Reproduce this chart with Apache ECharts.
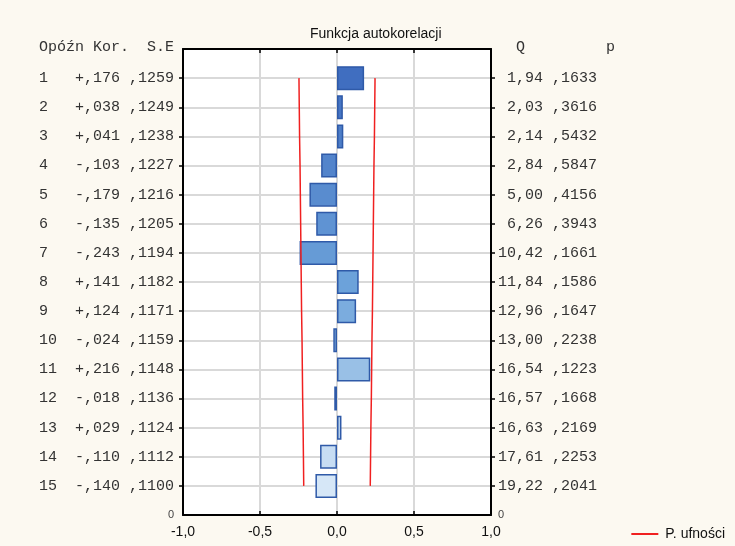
<!DOCTYPE html>
<html>
<head>
<meta charset="utf-8">
<script src="https://cdn.jsdelivr.net/npm/echarts@6/dist/echarts.min.js"></script>
<style>
html,body{margin:0;padding:0;background:#fcf9f1;}
#chart{width:735px;height:546px;}
</style>
</head>
<body>
<div id="chart"></div>
<script>
// ---- data ----
const lags = [1, 2, 3, 4, 5, 6, 7, 8, 9, 10, 11, 12, 13, 14, 15];
const corr = [0.176, 0.038, 0.041, -0.103, -0.179, -0.135, -0.243, 0.141, 0.124, -0.024, 0.216, -0.018, 0.029, -0.110, -0.140];
const stdErr = [0.1259, 0.1249, 0.1238, 0.1227, 0.1216, 0.1205, 0.1194, 0.1182, 0.1171, 0.1159, 0.1148, 0.1136, 0.1124, 0.1112, 0.1100];
const qStat = [1.94, 2.03, 2.14, 2.84, 5.00, 6.26, 10.42, 11.84, 12.96, 13.00, 16.54, 16.57, 16.63, 17.61, 19.22];
const pVal = [0.1633, 0.3616, 0.5432, 0.5847, 0.4156, 0.3943, 0.1661, 0.1586, 0.1647, 0.2238, 0.1223, 0.1668, 0.2169, 0.2253, 0.2041];
const confUpper = [0.247, 0.245, 0.243, 0.240, 0.238, 0.236, 0.234, 0.232, 0.230, 0.227, 0.225, 0.223, 0.220, 0.218, 0.216];
const confLower = [-0.247, -0.245, -0.243, -0.240, -0.238, -0.236, -0.234, -0.232, -0.230, -0.227, -0.225, -0.223, -0.220, -0.218, -0.216];
const xTicks = [-1, -0.5, 0, 0.5, 1];
const title = 'Funkcja autokorelacji';
const leftHeader = 'Opóźn Kor.  S.E';
const rightHeader = '  Q         p';
const legendName = 'P. ufności';

// ---- build ----
// category index 0 = bottom ("0"), 1..15 = lags 15..1, 16 = header row
const yCats = ['0'].concat(lags.slice().reverse().map(String)).concat(['hdr']);
const nCat = yCats.length;

function fmtCorr(v){ return (v < 0 ? '-' : '+') + ',' + Math.abs(v).toFixed(3).slice(2); }
function fmtFrac4(v){ return ',' + v.toFixed(4).slice(2); }
function fmtQ(v){ return v.toFixed(2).replace('.', ',').padStart(5, ' '); }

function leftLabel(val, idx){
  if (idx === 0) return '{s|0}';
  if (idx === nCat - 1) return '{h|' + leftHeader + '}';
  const i = +val - 1;
  return '{m|' + String(lags[i]).padEnd(4, ' ') + fmtCorr(corr[i]) + ' ' + fmtFrac4(stdErr[i]) + '}';
}
function rightLabel(val, idx){
  if (idx === 0) return '{s|0}';
  if (idx === nCat - 1) return '{h|' + rightHeader + '}';
  const i = +val - 1;
  return '{m|' + fmtQ(qStat[i]) + ' ' + fmtFrac4(pVal[i]) + '}';
}

// colour ramp (style only): dark blue -> mid blue -> pale blue
const stops = [[64, 110, 192], [108, 162, 218], [214, 231, 247]];
function barColor(i){
  const t = i / (lags.length - 1) * 2;
  const k = Math.min(1, Math.floor(t));
  const f = t - k;
  const a = stops[k], b = stops[k + 1];
  const c = a.map((x, j) => Math.round(x + (b[j] - x) * f));
  return 'rgb(' + c.join(',') + ')';
}

const barData = yCats.map((c, idx) => {
  if (idx === 0 || idx === nCat - 1) return '-';
  const i = +c - 1;
  return { value: corr[i], itemStyle: { color: barColor(i) } };
});

const monoFont = '"Liberation Mono","Courier New",monospace';
const sansFont = '"Liberation Sans",Arial,sans-serif';
const richStyles = {
  m: { fontFamily: monoFont, fontSize: 15, color: '#333' },
  h: { fontFamily: monoFont, fontSize: 15, color: '#333', padding: [0, 0, 3, 0] },
  s: { fontFamily: sansFont, fontSize: 11, color: '#444' }
};
const inner = (idx) => idx > 0 && idx < nCat - 1;

const chart = echarts.init(document.getElementById('chart'));
chart.setOption({
  backgroundColor: '#fcf9f1',
  animation: false,
  title: {
    text: title, left: 305, top: 22,
    textStyle: { fontFamily: sansFont, fontSize: 14, fontWeight: 'normal', color: '#111' }
  },
  legend: {
    data: [legendName], right: 5, bottom: 0, icon: 'rect', itemWidth: 27, itemHeight: 2, itemGap: 5,
    textStyle: { fontFamily: sansFont, fontSize: 14, color: '#111', padding: [0, 0, 0, 2] }
  },
  grid: { left: 183, right: 244, top: 49, bottom: 31, backgroundColor: '#ffffff', show: true, borderWidth: 0 },
  xAxis: [
    {
      type: 'value', min: xTicks[0], max: xTicks[xTicks.length - 1], interval: 0.5, position: 'bottom',
      axisLine: { show: true, onZero: false, lineStyle: { color: '#000', width: 2 } },
      axisTick: { show: true, inside: true, length: 4, lineStyle: { color: '#000', width: 1.5 } },
      axisLabel: {
        margin: 10, fontFamily: sansFont, fontSize: 14, color: '#111',
        formatter: v => v.toFixed(1).replace('.', ',')
      },
      splitLine: { show: true, lineStyle: { color: '#d9d9d9', width: 2 } }
    },
    {
      type: 'value', min: xTicks[0], max: xTicks[xTicks.length - 1], interval: 0.5, position: 'top',
      axisLine: { show: true, onZero: false, lineStyle: { color: '#000', width: 2 } },
      axisTick: { show: true, inside: true, length: 4, lineStyle: { color: '#000', width: 1.5 } },
      axisLabel: { show: false },
      splitLine: { show: false }
    }
  ],
  yAxis: [
    {
      type: 'category', data: yCats, boundaryGap: false, position: 'left',
      axisLine: { show: true, onZero: false, lineStyle: { color: '#000', width: 2 } },
      axisTick: { show: true, length: 4, interval: (idx) => inner(idx), lineStyle: { color: '#000', width: 1.5 } },
      axisLabel: { interval: 0, margin: 9, formatter: leftLabel, rich: richStyles },
      splitLine: { show: true, interval: (idx) => inner(idx), lineStyle: { color: '#d9d9d9', width: 2 } }
    },
    {
      type: 'category', data: yCats, boundaryGap: false, position: 'right',
      axisLine: { show: true, onZero: false, lineStyle: { color: '#000', width: 2 } },
      axisTick: { show: true, length: 4, interval: (idx) => inner(idx), lineStyle: { color: '#000', width: 1.5 } },
      axisLabel: { interval: 0, margin: 7, formatter: rightLabel, rich: richStyles },
      splitLine: { show: false }
    }
  ],
  series: [
    {
      type: 'bar', xAxisIndex: 0, yAxisIndex: 0, data: barData, barWidth: 24,
      itemStyle: { borderColor: '#2f5aa8', borderWidth: 1.5 },
      z: 3
    },
    {
      name: legendName, type: 'line', xAxisIndex: 0, yAxisIndex: 0, symbol: 'none',
      lineStyle: { color: '#f02020', width: 1.5 }, itemStyle: { color: '#f02020' },
      data: lags.map((l, i) => [confUpper[i], String(l)]), z: 4
    },
    {
      name: legendName, type: 'line', xAxisIndex: 0, yAxisIndex: 0, symbol: 'none',
      lineStyle: { color: '#f02020', width: 1.5 }, itemStyle: { color: '#f02020' },
      data: lags.map((l, i) => [confLower[i], String(l)]), z: 4
    }
  ]
});
</script>
</body>
</html>
